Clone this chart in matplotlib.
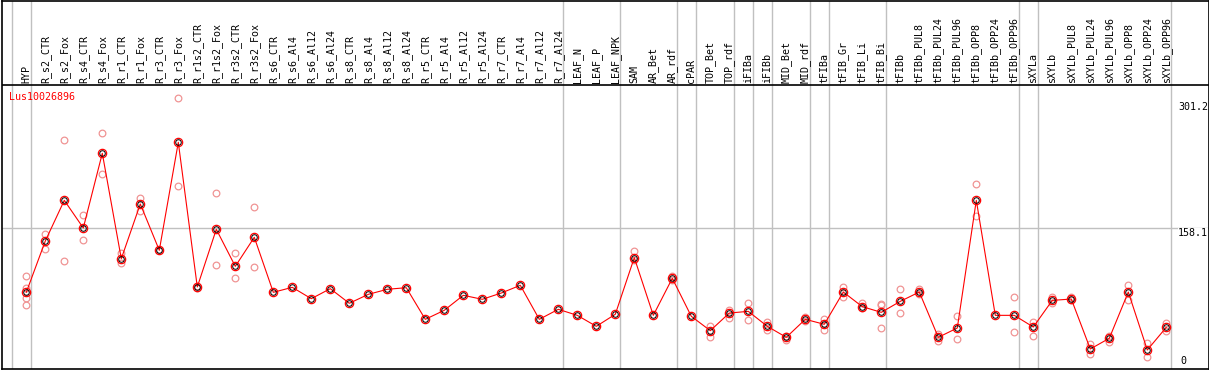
import matplotlib
matplotlib.use("Agg")
import matplotlib.pyplot as plt

gene = "Lus10026896"

categories = [
    "HYP", "R_s2_CTR", "R_s2_Fox", "R_s4_CTR", "R_s4_Fox", "R_r1_CTR", "R_r1_Fox",
    "R_r3_CTR", "R_r3_Fox", "R_r1s2_CTR", "R_r1s2_Fox", "R_r3s2_CTR", "R_r3s2_Fox",
    "R_s6_CTR", "R_s6_Al4", "R_s6_Al12", "R_s6_Al24", "R_s8_CTR", "R_s8_Al4",
    "R_s8_Al12", "R_s8_Al24", "R_r5_CTR", "R_r5_Al4", "R_r5_Al12", "R_r5_Al24",
    "R_r7_CTR", "R_r7_Al4", "R_r7_Al12", "R_r7_Al24", "LEAF_N", "LEAF_P", "LEAF_NPK",
    "SAM", "AR_Bet", "AR_rdf", "cPAR", "TOP_Bet", "TOP_rdf", "iFIBa", "iFIBb",
    "MID_Bet", "MID_rdf", "tFIBa", "tFIB_Gr", "tFIB_Li", "tFIB_Bi", "tFIBb",
    "tFIBb_PUL8", "tFIBb_PUL24", "tFIBb_PUL96", "tFIBb_OPP8", "tFIBb_OPP24",
    "tFIBb_OPP96", "sXYLa", "sXYLb", "sXYLb_PUL8", "sXYLb_PUL24", "sXYLb_PUL96",
    "sXYLb_OPP8", "sXYLb_OPP24", "sXYLb_OPP96",
]

means = [
    86.0, 143.9, 189.8, 158.6, 242.9, 123.9, 185.7, 133.4, 255.3, 92.0, 157.1,
    115.3, 148.1, 86.0, 91.6, 78.8, 90.1, 73.6, 83.7, 89.4, 91.2, 55.5, 65.7,
    82.6, 78.1, 85.2, 93.9, 55.5, 66.8, 60.0, 47.6, 61.2, 125.1, 60.0, 101.8,
    58.9, 42.7, 62.6, 64.5, 47.6, 35.2, 55.5, 49.9, 86.3, 69.8, 63.4, 75.8,
    86.3, 35.2, 45.7, 189.8, 60.0, 60.0, 46.8, 76.9, 78.4, 22.0, 34.1, 86.3,
    20.9, 46.5,
]

replicates = [
    [104.4, 91.2, 79.2, 71.7], [151.8, 134.5], [257.6, 121.0], [172.9, 144.7],
    [265.4, 219.2], [130.7, 119.4], [192.8, 178.1], [133.4], [305.0, 205.6],
    [93.0, 91.0], [197.7, 116.5], [130.0, 101.8], [181.9, 114.2],
    [], [], [], [], [], [], [], [], [], [], [], [], [], [], [], [], [], [], [],
    [132.6, 123.0], [], [104.8, 100.0], [], [48.0, 35.9], [66.0, 56.7],
    [73.6, 55.1], [52.8, 43.5], [32.2, 36.5], [58.5, 54.0], [55.9, 43.8],
    [91.6, 80.4], [73.6, 67.9], [72.5, 72.0, 45.4], [89.4, 62.3],
    [89.4, 84.1], [38.9, 31.4], [59.3, 33.3], [207.9, 172.1], [], [80.4, 40.9],
    [52.8, 36.3], [80.4, 74.3], [80.4, 77.0], [27.6, 16.4], [37.1, 30.3],
    [94.2, 77.3], [28.4, 12.6], [51.4, 42.7],
]

ytick_values = [301.2, 158.1, 0]
gridline_value = 158.1
separators_after = [-1, 0, 28, 31, 34, 35, 37, 38, 39, 41, 42, 45, 52, 53, 60]

# ---- layout (pixel geometry) ----
W, H = 1209, 370
col0_px, col_step = 26.3, 19.0
zero_px, px_per_unit = 368.5, 0.886
header_px = 85.3

def xdata(px):
    return (px - col0_px) / col_step

def ydata(py):
    return (zero_px - py) / px_per_unit

fig = plt.figure(figsize=(W / 100, H / 100), dpi=100)
left_px, right_px, top_px, bot_px = 1.5, 1208.5, 0.5, 369.0
ax = fig.add_axes([left_px / W, (H - bot_px) / H, (right_px - left_px) / W,
                   (bot_px - top_px) / H])
ax.set_xlim(xdata(left_px), xdata(right_px))
ax.set_ylim(ydata(bot_px), ydata(top_px))
ax.set_xticks([])
ax.set_yticks([])
for s in ax.spines.values():
    s.set_color("black")
    s.set_linewidth(1.2)

grid_col = "#c0c0c0"
for s in separators_after:
    ax.axvline(s + 0.23, color=grid_col, lw=1.0, zorder=1)
ax.axhline(gridline_value, color=grid_col, lw=1.0, zorder=1)
ax.axhline(ydata(header_px), color="black", lw=1.2, zorder=2)

mono = "DejaVu Sans Mono"
fs = 7.2
x = list(range(len(categories)))
for i, lab in enumerate(categories):
    ax.text(i, ydata(header_px - 2.5), lab, rotation=90, ha="center", va="bottom",
            fontsize=fs, family=mono, color="black", zorder=3)

# replicates
rx, ry = [], []
for i, reps in enumerate(replicates):
    for r in reps:
        rx.append(i)
        ry.append(r)
ax.plot(rx, ry, linestyle="none", marker="o", ms=4.8, mfc="none",
        mec="#f09494", mew=0.9, zorder=4)

ax.plot(x, means, color="red", lw=0.8, zorder=5)
ax.plot(x, means, linestyle="none", marker="o", ms=6.0, mfc="none",
        mec="red", mew=0.9, zorder=6)
ax.plot(x, means, linestyle="none", marker="o", ms=4.0, mfc="none",
        mec="black", mew=0.7, zorder=7)

# y labels on right
lab_x = xdata(1178)
for v in ytick_values:
    if v == 0:
        ax.text(xdata(1180), ydata(366.5), "0", ha="left", va="bottom",
                fontsize=fs, family=mono, zorder=8)
    else:
        ax.text(lab_x, v, f"{v}", ha="left", va="top", fontsize=fs, family=mono,
                zorder=8, bbox=dict(facecolor="white", edgecolor="none", pad=0.3))

fig.text(9.5 / W, 1 - 92.5 / H, gene, ha="left", va="top", fontsize=fs,
         family=mono, color="red")

fig.savefig("out.png", dpi=100)
